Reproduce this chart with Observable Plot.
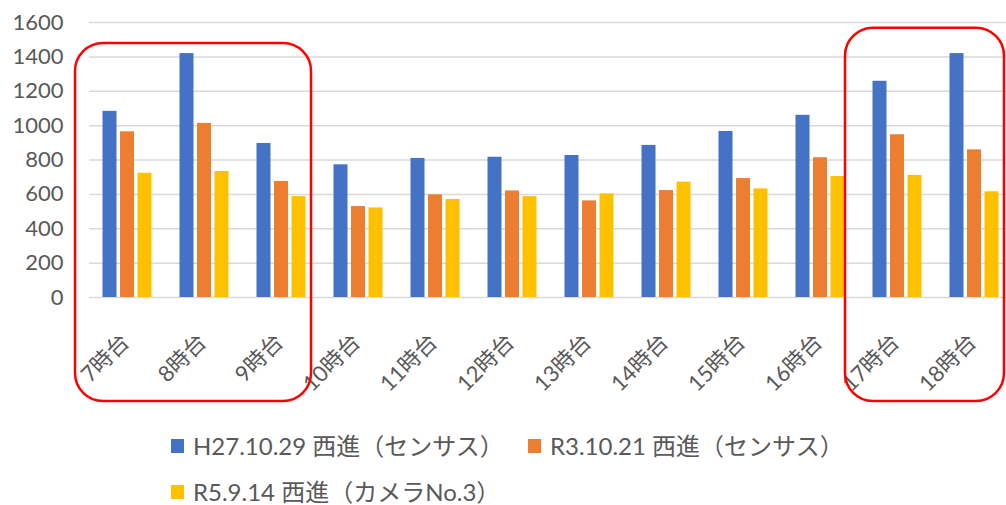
<!DOCTYPE html>
<html><head><meta charset="utf-8">
<script src="https://cdn.jsdelivr.net/npm/d3@7"></script>
<script src="https://cdn.jsdelivr.net/npm/@observablehq/plot@0.6"></script>
<style>
html,body{margin:0;padding:0;background:#fff;overflow:hidden;width:1006px;height:505px}
#wrap{position:relative;width:1006px;height:505px}
#wrap svg{position:absolute;left:0;top:0;overflow:visible}
.sw{position:absolute;width:13px;height:14px}
.lt{position:absolute;font-family:Lato,"Noto Sans CJK JP",sans-serif;font-size:24px;color:#595959;white-space:nowrap;line-height:1}
</style></head><body><div id="wrap"></div>
<script>
const hours = ["7時台","8時台","9時台","10時台","11時台","12時台","13時台","14時台","15時台","16時台","17時台","18時台"];
const seriesNames = ["H27.10.29 西進（センサス）","R3.10.21 西進（センサス）","R5.9.14 西進（カメラNo.3）"];
const seriesColors = ["#4472C4","#ED7D31","#FFC000"];
const h27 = [1083,1419,896,772,809,816,826,885,966,1060,1258,1419];
const r3  = [964,1013,675,529,597,620,562,622,692,813,947,859];
const r5  = [723,733,587,521,570,587,603,671,632,704,710,615];
const yTicks = [0,200,400,600,800,1000,1200,1400,1600];
const highlights = [{from:"7時台", to:"9時台", top:1478},{from:"17時台", to:"18時台", top:1567}];

const seriesValues = [h27, r3, r5];
const offsets = [-17.5, 0, 17.5];
const bars = seriesValues.map((vals, s) =>
  Plot.barY(hours.map((h, i) => ({hour: h, value: vals[i]})),
    {x: "hour", y: "value", fill: seriesColors[s], dx: offsets[s]}));

const chart = Plot.plot({
  width: 1006, height: 410,
  marginLeft: 89, marginRight: -7, marginTop: 22, marginBottom: 113,
  x: {domain: hours, paddingInner: 0.818, paddingOuter: 0.409},
  y: {domain: [0, 1600]},
  style: {fontFamily: 'Lato, "Noto Sans CJK JP", sans-serif', color: "#595959", background: "transparent"},
  marks: [
    Plot.ruleY(yTicks, {stroke: "#d9d9d9", strokeWidth: 1.5}),
    ...bars,
    Plot.axisY({ticks: yTicks, tickFormat: d => String(d), tickSize: 0, tickPadding: 26, fontSize: 22, label: null}),
    Plot.axisX({tickSize: 0, tickRotate: -45, tickPadding: 36, dx: -2, dy: 5, fontSize: 22, label: null})
  ]
});

const sx = chart.scale("x"), sy = chart.scale("y");
const cx = h => sx.apply(h) + sx.bandwidth / 2;
const bottom = sy.apply(0) + 104;
d3.select(chart).append("g").selectAll("rect").data(highlights).join("rect")
  .attr("x", d => cx(d.from) - 52)
  .attr("y", d => sy.apply(d.top))
  .attr("width", d => (cx(d.to) + 30) - (cx(d.from) - 52))
  .attr("height", d => bottom - sy.apply(d.top))
  .attr("rx", 28).attr("ry", 28)
  .attr("fill", "none").attr("stroke", "#ff0000").attr("stroke-width", 2.5);

const wrap = document.getElementById("wrap");
wrap.appendChild(chart);

const legendPos = [{left: 171, top: 439}, {left: 528, top: 439}, {left: 171, top: 485}];
seriesNames.forEach((name, i) => {
  const sw = document.createElement("div");
  sw.className = "sw";
  sw.style.left = legendPos[i].left + "px";
  sw.style.top = legendPos[i].top + "px";
  sw.style.background = seriesColors[i];
  wrap.appendChild(sw);
  const t = document.createElement("div");
  t.className = "lt";
  t.style.left = (legendPos[i].left + 22) + "px";
  t.style.top = (legendPos[i].top - 5) + "px";
  t.textContent = name;
  wrap.appendChild(t);
});
</script></body></html>
